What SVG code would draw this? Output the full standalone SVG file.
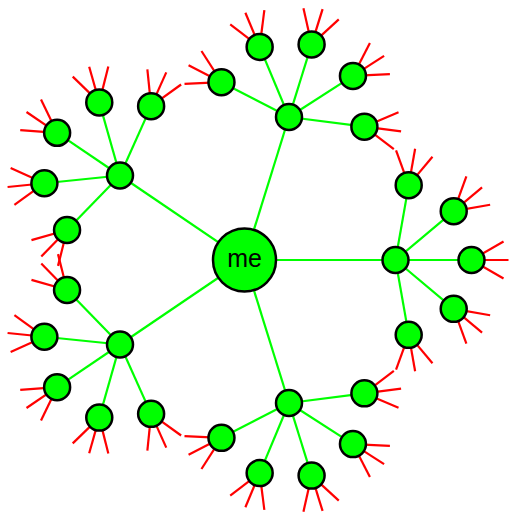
<svg xmlns="http://www.w3.org/2000/svg" xmlns:xlink="http://www.w3.org/1999/xlink" width="509" height="513" viewBox="0 0 509 513">
<style>
.edge{stroke:#00ff00;stroke-width:2.2;fill:none}
.stub{stroke:#ff0000;stroke-width:2.2;fill:none}
.node circle{fill:#00ff00;stroke:#000;stroke-width:2.5}
.lbl{font-family:"Liberation Sans",Arial,sans-serif;font-size:25px;fill:#000;text-anchor:middle}
</style>
<defs>
<g id="fan">
<line class="stub" x1="0" y1="0" x2="37" y2="0" transform="rotate(-30)"/>
<line class="stub" x1="0" y1="0" x2="37" y2="0"/>
<line class="stub" x1="0" y1="0" x2="37" y2="0" transform="rotate(30)"/>
</g>
</defs>
<rect width="509" height="513" fill="#fff"/>
<g id="connectors">
<g id="stubs">
<use xlink:href="#fan" href="#fan" transform="translate(408.7,185.15) rotate(-80)"/>
<use xlink:href="#fan" href="#fan" transform="translate(453.72,211.15) rotate(-40)"/>
<use xlink:href="#fan" href="#fan" transform="translate(471.5,260) rotate(0)"/>
<use xlink:href="#fan" href="#fan" transform="translate(453.72,308.85) rotate(40)"/>
<use xlink:href="#fan" href="#fan" transform="translate(408.7,334.85) rotate(80)"/>
<use xlink:href="#fan" href="#fan" transform="translate(221.46,82.15) rotate(-152.71)"/>
<use xlink:href="#fan" href="#fan" transform="translate(259.66,46.89) rotate(-112.71)"/>
<use xlink:href="#fan" href="#fan" transform="translate(311.59,44.43) rotate(-72.71)"/>
<use xlink:href="#fan" href="#fan" transform="translate(352.95,75.93) rotate(-32.71)"/>
<use xlink:href="#fan" href="#fan" transform="translate(364.39,126.64) rotate(7.29)"/>
<use xlink:href="#fan" href="#fan" transform="translate(221.46,437.85) rotate(152.71)"/>
<use xlink:href="#fan" href="#fan" transform="translate(259.66,473.11) rotate(112.71)"/>
<use xlink:href="#fan" href="#fan" transform="translate(311.59,475.57) rotate(72.71)"/>
<use xlink:href="#fan" href="#fan" transform="translate(352.95,444.07) rotate(32.71)"/>
<use xlink:href="#fan" href="#fan" transform="translate(364.39,393.36) rotate(-7.29)"/>
<use xlink:href="#fan" href="#fan" transform="translate(67.05,230.02) rotate(134.17)"/>
<use xlink:href="#fan" href="#fan" transform="translate(44.39,183.22) rotate(174.17)"/>
<use xlink:href="#fan" href="#fan" transform="translate(57.12,132.81) rotate(-145.83)"/>
<use xlink:href="#fan" href="#fan" transform="translate(99.27,102.38) rotate(-105.83)"/>
<use xlink:href="#fan" href="#fan" transform="translate(151.12,106.16) rotate(-65.83)"/>
<use xlink:href="#fan" href="#fan" transform="translate(67.05,289.98) rotate(-134.17)"/>
<use xlink:href="#fan" href="#fan" transform="translate(44.39,336.78) rotate(-174.17)"/>
<use xlink:href="#fan" href="#fan" transform="translate(57.12,387.19) rotate(145.83)"/>
<use xlink:href="#fan" href="#fan" transform="translate(99.27,417.62) rotate(105.83)"/>
<use xlink:href="#fan" href="#fan" transform="translate(151.12,413.84) rotate(65.83)"/>
</g>
<g id="edges">
<line class="edge" x1="244.5" y1="260" x2="289" y2="117"/>
<line class="edge" x1="244.5" y1="260" x2="395.5" y2="260"/>
<line class="edge" x1="244.5" y1="260" x2="289" y2="403"/>
<line class="edge" x1="244.5" y1="260" x2="120" y2="344.5"/>
<line class="edge" x1="244.5" y1="260" x2="120" y2="175.5"/>
<line class="edge" x1="395.5" y1="260" x2="408.7" y2="185.15"/>
<line class="edge" x1="395.5" y1="260" x2="453.72" y2="211.15"/>
<line class="edge" x1="395.5" y1="260" x2="471.5" y2="260"/>
<line class="edge" x1="395.5" y1="260" x2="453.72" y2="308.85"/>
<line class="edge" x1="395.5" y1="260" x2="408.7" y2="334.85"/>
<line class="edge" x1="289" y1="117" x2="221.46" y2="82.15"/>
<line class="edge" x1="289" y1="117" x2="259.66" y2="46.89"/>
<line class="edge" x1="289" y1="117" x2="311.59" y2="44.43"/>
<line class="edge" x1="289" y1="117" x2="352.95" y2="75.93"/>
<line class="edge" x1="289" y1="117" x2="364.39" y2="126.64"/>
<line class="edge" x1="289" y1="403" x2="221.46" y2="437.85"/>
<line class="edge" x1="289" y1="403" x2="259.66" y2="473.11"/>
<line class="edge" x1="289" y1="403" x2="311.59" y2="475.57"/>
<line class="edge" x1="289" y1="403" x2="352.95" y2="444.07"/>
<line class="edge" x1="289" y1="403" x2="364.39" y2="393.36"/>
<line class="edge" x1="120" y1="175.5" x2="67.05" y2="230.02"/>
<line class="edge" x1="120" y1="175.5" x2="44.39" y2="183.22"/>
<line class="edge" x1="120" y1="175.5" x2="57.12" y2="132.81"/>
<line class="edge" x1="120" y1="175.5" x2="99.27" y2="102.38"/>
<line class="edge" x1="120" y1="175.5" x2="151.12" y2="106.16"/>
<line class="edge" x1="120" y1="344.5" x2="67.05" y2="289.98"/>
<line class="edge" x1="120" y1="344.5" x2="44.39" y2="336.78"/>
<line class="edge" x1="120" y1="344.5" x2="57.12" y2="387.19"/>
<line class="edge" x1="120" y1="344.5" x2="99.27" y2="417.62"/>
<line class="edge" x1="120" y1="344.5" x2="151.12" y2="413.84"/>
</g>
</g>
<g id="n-me" class="node"><circle cx="244.5" cy="260" r="31.5"/><text class="lbl" x="244.5" y="267">me</text></g>
<g id="hub-top" class="node"><circle cx="289" cy="117" r="13"/></g>
<g id="hub-right" class="node"><circle cx="395.5" cy="260" r="13"/></g>
<g id="hub-bottom" class="node"><circle cx="289" cy="403" r="13"/></g>
<g id="hub-lb" class="node"><circle cx="120" cy="344.5" r="13"/></g>
<g id="hub-lt" class="node"><circle cx="120" cy="175.5" r="13"/></g>
<g id="r1" class="node"><circle cx="408.7" cy="185.15" r="13"/></g>
<g id="r2" class="node"><circle cx="453.72" cy="211.15" r="13"/></g>
<g id="r3" class="node"><circle cx="471.5" cy="260" r="13"/></g>
<g id="r4" class="node"><circle cx="453.72" cy="308.85" r="13"/></g>
<g id="r5" class="node"><circle cx="408.7" cy="334.85" r="13"/></g>
<g id="t1" class="node"><circle cx="221.46" cy="82.15" r="13"/></g>
<g id="t2" class="node"><circle cx="259.66" cy="46.89" r="13"/></g>
<g id="t3" class="node"><circle cx="311.59" cy="44.43" r="13"/></g>
<g id="t4" class="node"><circle cx="352.95" cy="75.93" r="13"/></g>
<g id="t5" class="node"><circle cx="364.39" cy="126.64" r="13"/></g>
<g id="b1" class="node"><circle cx="221.46" cy="437.85" r="13"/></g>
<g id="b2" class="node"><circle cx="259.66" cy="473.11" r="13"/></g>
<g id="b3" class="node"><circle cx="311.59" cy="475.57" r="13"/></g>
<g id="b4" class="node"><circle cx="352.95" cy="444.07" r="13"/></g>
<g id="b5" class="node"><circle cx="364.39" cy="393.36" r="13"/></g>
<g id="lt1" class="node"><circle cx="67.05" cy="230.02" r="13"/></g>
<g id="lt2" class="node"><circle cx="44.39" cy="183.22" r="13"/></g>
<g id="lt3" class="node"><circle cx="57.12" cy="132.81" r="13"/></g>
<g id="lt4" class="node"><circle cx="99.27" cy="102.38" r="13"/></g>
<g id="lt5" class="node"><circle cx="151.12" cy="106.16" r="13"/></g>
<g id="lb1" class="node"><circle cx="67.05" cy="289.98" r="13"/></g>
<g id="lb2" class="node"><circle cx="44.39" cy="336.78" r="13"/></g>
<g id="lb3" class="node"><circle cx="57.12" cy="387.19" r="13"/></g>
<g id="lb4" class="node"><circle cx="99.27" cy="417.62" r="13"/></g>
<g id="lb5" class="node"><circle cx="151.12" cy="413.84" r="13"/></g>
</svg>
